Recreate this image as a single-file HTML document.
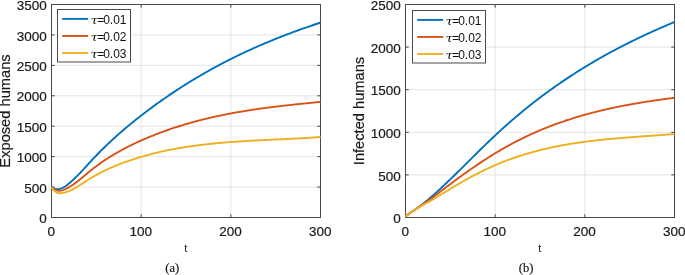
<!DOCTYPE html>
<html lang="en">
<head>
<meta charset="utf-8">
<title>Exposed and infected humans for different values of tau</title>
<style>
html, body { margin: 0; padding: 0; background: #ffffff; }
body { width: 685px; height: 275px; overflow: hidden; }
svg text { white-space: pre; }
</style>
</head>
<body>
<svg width="685" height="275" viewBox="0 0 685 275" style="display:block">
<rect width="685" height="275" fill="#ffffff"/>
<rect x="51.5" y="4.5" width="269.0" height="213.0" fill="#fff"/>
<path d="M141.17,4.5 V217.5 M230.83,4.5 V217.5 M51.5,187.07 H320.5 M51.5,156.64 H320.5 M51.5,126.21 H320.5 M51.5,95.79 H320.5 M51.5,65.36 H320.5 M51.5,34.93 H320.5" stroke="#e4e4e4" stroke-width="1" fill="none"/>
<path d="M51.50,217.5 v-3.2 M51.50,4.5 v3.2 M141.17,217.5 v-3.2 M141.17,4.5 v3.2 M230.83,217.5 v-3.2 M230.83,4.5 v3.2 M320.50,217.5 v-3.2 M320.50,4.5 v3.2 M51.5,217.50 h3.2 M320.5,217.50 h-3.2 M51.5,187.07 h3.2 M320.5,187.07 h-3.2 M51.5,156.64 h3.2 M320.5,156.64 h-3.2 M51.5,126.21 h3.2 M320.5,126.21 h-3.2 M51.5,95.79 h3.2 M320.5,95.79 h-3.2 M51.5,65.36 h3.2 M320.5,65.36 h-3.2 M51.5,34.93 h3.2 M320.5,34.93 h-3.2 M51.5,4.50 h3.2 M320.5,4.50 h-3.2" stroke="#4a4a4a" stroke-width="1" fill="none"/>
<rect x="51.5" y="4.5" width="269.0" height="213.0" fill="none" stroke="#4a4a4a" stroke-width="1"/>
<g fill="none" stroke-width="1.9" stroke-linejoin="round" stroke-linecap="butt">
<path d="M51.50,187.07 L52.25,187.59 L53.00,188.04 L53.75,188.40 L54.50,188.69 L55.25,188.91 L56.00,189.06 L56.75,189.15 L57.50,189.17 L58.25,189.13 L59.00,189.03 L59.75,188.87 L60.50,188.66 L61.25,188.41 L62.00,188.10 L62.75,187.75 L63.50,187.36 L64.25,186.93 L65.00,186.47 L65.75,185.97 L66.50,185.44 L67.25,184.88 L68.00,184.30 L68.75,183.69 L69.50,183.06 L70.25,182.42 L71.00,181.76 L71.75,181.09 L72.50,180.40 L73.25,179.70 L74.00,178.99 L74.75,178.28 L75.50,177.55 L76.25,176.82 L77.00,176.08 L77.75,175.34 L78.50,174.59 L79.25,173.82 L80.00,173.05 L80.75,172.28 L81.50,171.49 L82.25,170.68 L83.00,169.87 L83.75,169.06 L84.50,168.23 L85.25,167.40 L86.00,166.57 L86.75,165.74 L87.50,164.90 L88.25,164.08 L89.00,163.25 L89.75,162.43 L90.50,161.62 L91.25,160.81 L92.00,160.00 L92.75,159.20 L93.50,158.41 L94.25,157.62 L95.00,156.83 L95.75,156.05 L96.50,155.27 L97.25,154.50 L98.00,153.73 L98.75,152.97 L99.50,152.21 L100.25,151.45 L101.00,150.70 L101.75,149.95 L102.50,149.21 L103.25,148.47 L104.00,147.74 L104.75,147.01 L105.50,146.28 L106.25,145.56 L107.00,144.84 L107.75,144.12 L108.50,143.41 L109.25,142.71 L110.00,142.00 L110.75,141.30 L111.50,140.61 L112.25,139.91 L113.00,139.22 L113.75,138.54 L114.50,137.86 L115.25,137.18 L116.00,136.50 L116.75,135.83 L117.50,135.16 L118.25,134.50 L119.00,133.84 L119.75,133.18 L120.50,132.52 L121.25,131.87 L122.00,131.22 L122.75,130.58 L123.50,129.93 L124.25,129.29 L125.00,128.66 L125.75,128.02 L126.50,127.39 L127.25,126.76 L128.00,126.14 L128.75,125.51 L129.50,124.89 L130.25,124.28 L131.00,123.66 L131.75,123.05 L132.50,122.44 L133.25,121.83 L134.00,121.23 L134.75,120.63 L135.50,120.03 L136.25,119.43 L137.00,118.83 L137.75,118.24 L138.50,117.65 L139.25,117.06 L140.00,116.48 L140.75,115.89 L141.50,115.31 L142.25,114.73 L143.00,114.15 L143.75,113.58 L144.50,113.00 L145.25,112.43 L146.00,111.86 L146.75,111.29 L147.50,110.73 L148.25,110.16 L149.00,109.60 L149.75,109.04 L150.50,108.48 L151.25,107.93 L152.00,107.37 L152.75,106.82 L153.50,106.27 L154.25,105.72 L155.00,105.18 L155.75,104.63 L156.50,104.09 L157.25,103.55 L158.00,103.01 L158.75,102.47 L159.50,101.94 L160.25,101.41 L161.00,100.88 L161.75,100.35 L162.50,99.82 L163.25,99.29 L164.00,98.77 L164.75,98.25 L165.50,97.73 L166.25,97.21 L167.00,96.70 L167.75,96.18 L168.50,95.67 L169.25,95.16 L170.00,94.65 L170.75,94.14 L171.50,93.64 L172.25,93.14 L173.00,92.64 L173.75,92.14 L174.50,91.64 L175.25,91.14 L176.00,90.65 L176.75,90.16 L177.50,89.67 L178.25,89.18 L179.00,88.69 L179.75,88.21 L180.50,87.72 L181.25,87.24 L182.00,86.76 L182.75,86.28 L183.50,85.81 L184.25,85.33 L185.00,84.86 L185.75,84.39 L186.50,83.92 L187.25,83.45 L188.00,82.98 L188.75,82.52 L189.50,82.06 L190.25,81.60 L191.00,81.14 L191.75,80.68 L192.50,80.22 L193.25,79.77 L194.00,79.32 L194.75,78.87 L195.50,78.42 L196.25,77.97 L197.00,77.53 L197.75,77.08 L198.50,76.64 L199.25,76.20 L200.00,75.76 L200.75,75.32 L201.50,74.88 L202.25,74.45 L203.00,74.02 L203.75,73.59 L204.50,73.16 L205.25,72.73 L206.00,72.30 L206.75,71.88 L207.50,71.45 L208.25,71.03 L209.00,70.61 L209.75,70.19 L210.50,69.78 L211.25,69.36 L212.00,68.95 L212.75,68.53 L213.50,68.12 L214.25,67.71 L215.00,67.31 L215.75,66.90 L216.50,66.49 L217.25,66.09 L218.00,65.69 L218.75,65.29 L219.50,64.89 L220.25,64.49 L221.00,64.10 L221.75,63.70 L222.50,63.31 L223.25,62.92 L224.00,62.53 L224.75,62.14 L225.50,61.75 L226.25,61.37 L227.00,60.98 L227.75,60.60 L228.50,60.22 L229.25,59.84 L230.00,59.46 L230.75,59.08 L231.50,58.71 L232.25,58.33 L233.00,57.96 L233.75,57.59 L234.50,57.22 L235.25,56.85 L236.00,56.48 L236.75,56.12 L237.50,55.75 L238.25,55.39 L239.00,55.03 L239.75,54.67 L240.50,54.31 L241.25,53.95 L242.00,53.59 L242.75,53.24 L243.50,52.88 L244.25,52.53 L245.00,52.18 L245.75,51.83 L246.50,51.48 L247.25,51.13 L248.00,50.79 L248.75,50.44 L249.50,50.10 L250.25,49.76 L251.00,49.42 L251.75,49.08 L252.50,48.74 L253.25,48.40 L254.00,48.06 L254.75,47.73 L255.50,47.40 L256.25,47.06 L257.00,46.73 L257.75,46.40 L258.50,46.07 L259.25,45.75 L260.00,45.42 L260.75,45.10 L261.50,44.77 L262.25,44.45 L263.00,44.13 L263.75,43.81 L264.50,43.49 L265.25,43.17 L266.00,42.85 L266.75,42.54 L267.50,42.22 L268.25,41.91 L269.00,41.60 L269.75,41.29 L270.50,40.98 L271.25,40.67 L272.00,40.36 L272.75,40.06 L273.50,39.75 L274.25,39.45 L275.00,39.14 L275.75,38.84 L276.50,38.54 L277.25,38.24 L278.00,37.94 L278.75,37.64 L279.50,37.35 L280.25,37.05 L281.00,36.76 L281.75,36.46 L282.50,36.17 L283.25,35.88 L284.00,35.59 L284.75,35.30 L285.50,35.01 L286.25,34.72 L287.00,34.44 L287.75,34.15 L288.50,33.87 L289.25,33.59 L290.00,33.30 L290.75,33.02 L291.50,32.74 L292.25,32.46 L293.00,32.18 L293.75,31.91 L294.50,31.63 L295.25,31.36 L296.00,31.08 L296.75,30.81 L297.50,30.53 L298.25,30.26 L299.00,29.99 L299.75,29.72 L300.50,29.45 L301.25,29.19 L302.00,28.92 L302.75,28.65 L303.50,28.39 L304.25,28.12 L305.00,27.86 L305.75,27.60 L306.50,27.34 L307.25,27.07 L308.00,26.81 L308.75,26.56 L309.50,26.30 L310.25,26.04 L311.00,25.78 L311.75,25.53 L312.50,25.27 L313.25,25.02 L314.00,24.77 L314.75,24.51 L315.50,24.26 L316.25,24.01 L317.00,23.76 L317.75,23.51 L318.50,23.26 L319.25,23.02 L320.00,22.77 L320.50,22.61" stroke="#0072BD"/>
<path d="M51.50,187.07 L52.25,187.81 L53.00,188.46 L53.75,189.02 L54.50,189.49 L55.25,189.87 L56.00,190.18 L56.75,190.41 L57.50,190.57 L58.25,190.67 L59.00,190.71 L59.75,190.69 L60.50,190.61 L61.25,190.49 L62.00,190.33 L62.75,190.12 L63.50,189.88 L64.25,189.60 L65.00,189.30 L65.75,188.96 L66.50,188.60 L67.25,188.22 L68.00,187.81 L68.75,187.38 L69.50,186.93 L70.25,186.46 L71.00,185.98 L71.75,185.49 L72.50,184.98 L73.25,184.46 L74.00,183.93 L74.75,183.38 L75.50,182.83 L76.25,182.28 L77.00,181.71 L77.75,181.14 L78.50,180.56 L79.25,179.98 L80.00,179.38 L80.75,178.78 L81.50,178.17 L82.25,177.56 L83.00,176.94 L83.75,176.31 L84.50,175.68 L85.25,175.05 L86.00,174.42 L86.75,173.79 L87.50,173.17 L88.25,172.54 L89.00,171.93 L89.75,171.32 L90.50,170.71 L91.25,170.11 L92.00,169.52 L92.75,168.93 L93.50,168.35 L94.25,167.78 L95.00,167.21 L95.75,166.64 L96.50,166.08 L97.25,165.53 L98.00,164.98 L98.75,164.43 L99.50,163.90 L100.25,163.36 L101.00,162.83 L101.75,162.31 L102.50,161.79 L103.25,161.28 L104.00,160.77 L104.75,160.27 L105.50,159.77 L106.25,159.27 L107.00,158.79 L107.75,158.30 L108.50,157.82 L109.25,157.34 L110.00,156.87 L110.75,156.41 L111.50,155.94 L112.25,155.49 L113.00,155.03 L113.75,154.58 L114.50,154.14 L115.25,153.69 L116.00,153.26 L116.75,152.82 L117.50,152.39 L118.25,151.97 L119.00,151.55 L119.75,151.13 L120.50,150.71 L121.25,150.30 L122.00,149.89 L122.75,149.49 L123.50,149.09 L124.25,148.69 L125.00,148.30 L125.75,147.91 L126.50,147.52 L127.25,147.14 L128.00,146.76 L128.75,146.38 L129.50,146.01 L130.25,145.63 L131.00,145.27 L131.75,144.90 L132.50,144.54 L133.25,144.18 L134.00,143.82 L134.75,143.47 L135.50,143.11 L136.25,142.76 L137.00,142.42 L137.75,142.07 L138.50,141.73 L139.25,141.39 L140.00,141.05 L140.75,140.72 L141.50,140.38 L142.25,140.05 L143.00,139.72 L143.75,139.40 L144.50,139.07 L145.25,138.75 L146.00,138.43 L146.75,138.11 L147.50,137.79 L148.25,137.48 L149.00,137.17 L149.75,136.86 L150.50,136.55 L151.25,136.24 L152.00,135.94 L152.75,135.64 L153.50,135.34 L154.25,135.04 L155.00,134.74 L155.75,134.45 L156.50,134.16 L157.25,133.87 L158.00,133.58 L158.75,133.29 L159.50,133.01 L160.25,132.72 L161.00,132.44 L161.75,132.16 L162.50,131.89 L163.25,131.61 L164.00,131.34 L164.75,131.07 L165.50,130.80 L166.25,130.53 L167.00,130.26 L167.75,130.00 L168.50,129.74 L169.25,129.48 L170.00,129.22 L170.75,128.96 L171.50,128.71 L172.25,128.45 L173.00,128.20 L173.75,127.95 L174.50,127.70 L175.25,127.46 L176.00,127.21 L176.75,126.97 L177.50,126.73 L178.25,126.49 L179.00,126.25 L179.75,126.02 L180.50,125.78 L181.25,125.55 L182.00,125.32 L182.75,125.09 L183.50,124.86 L184.25,124.64 L185.00,124.41 L185.75,124.19 L186.50,123.97 L187.25,123.75 L188.00,123.53 L188.75,123.31 L189.50,123.10 L190.25,122.88 L191.00,122.67 L191.75,122.46 L192.50,122.25 L193.25,122.05 L194.00,121.84 L194.75,121.64 L195.50,121.43 L196.25,121.23 L197.00,121.03 L197.75,120.84 L198.50,120.64 L199.25,120.44 L200.00,120.25 L200.75,120.06 L201.50,119.87 L202.25,119.68 L203.00,119.49 L203.75,119.30 L204.50,119.12 L205.25,118.93 L206.00,118.75 L206.75,118.57 L207.50,118.39 L208.25,118.21 L209.00,118.04 L209.75,117.86 L210.50,117.69 L211.25,117.51 L212.00,117.34 L212.75,117.17 L213.50,117.00 L214.25,116.83 L215.00,116.67 L215.75,116.50 L216.50,116.34 L217.25,116.18 L218.00,116.01 L218.75,115.85 L219.50,115.70 L220.25,115.54 L221.00,115.38 L221.75,115.23 L222.50,115.07 L223.25,114.92 L224.00,114.77 L224.75,114.62 L225.50,114.47 L226.25,114.32 L227.00,114.17 L227.75,114.03 L228.50,113.88 L229.25,113.74 L230.00,113.59 L230.75,113.45 L231.50,113.31 L232.25,113.17 L233.00,113.03 L233.75,112.90 L234.50,112.76 L235.25,112.63 L236.00,112.49 L236.75,112.36 L237.50,112.23 L238.25,112.09 L239.00,111.96 L239.75,111.84 L240.50,111.71 L241.25,111.58 L242.00,111.45 L242.75,111.33 L243.50,111.20 L244.25,111.08 L245.00,110.96 L245.75,110.84 L246.50,110.72 L247.25,110.60 L248.00,110.48 L248.75,110.36 L249.50,110.24 L250.25,110.13 L251.00,110.01 L251.75,109.90 L252.50,109.78 L253.25,109.67 L254.00,109.56 L254.75,109.45 L255.50,109.34 L256.25,109.23 L257.00,109.12 L257.75,109.01 L258.50,108.91 L259.25,108.80 L260.00,108.69 L260.75,108.59 L261.50,108.48 L262.25,108.38 L263.00,108.28 L263.75,108.18 L264.50,108.08 L265.25,107.98 L266.00,107.88 L266.75,107.78 L267.50,107.68 L268.25,107.58 L269.00,107.48 L269.75,107.39 L270.50,107.29 L271.25,107.20 L272.00,107.10 L272.75,107.01 L273.50,106.91 L274.25,106.82 L275.00,106.73 L275.75,106.64 L276.50,106.55 L277.25,106.46 L278.00,106.37 L278.75,106.28 L279.50,106.19 L280.25,106.10 L281.00,106.01 L281.75,105.92 L282.50,105.84 L283.25,105.75 L284.00,105.66 L284.75,105.58 L285.50,105.49 L286.25,105.41 L287.00,105.33 L287.75,105.24 L288.50,105.16 L289.25,105.08 L290.00,104.99 L290.75,104.91 L291.50,104.83 L292.25,104.75 L293.00,104.67 L293.75,104.59 L294.50,104.51 L295.25,104.43 L296.00,104.35 L296.75,104.27 L297.50,104.19 L298.25,104.11 L299.00,104.04 L299.75,103.96 L300.50,103.88 L301.25,103.80 L302.00,103.73 L302.75,103.65 L303.50,103.57 L304.25,103.50 L305.00,103.42 L305.75,103.35 L306.50,103.27 L307.25,103.20 L308.00,103.12 L308.75,103.05 L309.50,102.97 L310.25,102.90 L311.00,102.82 L311.75,102.75 L312.50,102.67 L313.25,102.60 L314.00,102.53 L314.75,102.45 L315.50,102.38 L316.25,102.31 L317.00,102.23 L317.75,102.16 L318.50,102.09 L319.25,102.01 L320.00,101.94 L320.50,101.89" stroke="#D95319"/>
<path d="M51.50,187.07 L52.25,188.26 L53.00,189.30 L53.75,190.18 L54.50,190.94 L55.25,191.56 L56.00,192.07 L56.75,192.47 L57.50,192.77 L58.25,192.98 L59.00,193.12 L59.75,193.18 L60.50,193.18 L61.25,193.13 L62.00,193.04 L62.75,192.92 L63.50,192.78 L64.25,192.61 L65.00,192.42 L65.75,192.21 L66.50,191.97 L67.25,191.72 L68.00,191.45 L68.75,191.16 L69.50,190.85 L70.25,190.52 L71.00,190.17 L71.75,189.81 L72.50,189.44 L73.25,189.05 L74.00,188.64 L74.75,188.23 L75.50,187.80 L76.25,187.36 L77.00,186.92 L77.75,186.46 L78.50,186.00 L79.25,185.53 L80.00,185.05 L80.75,184.57 L81.50,184.09 L82.25,183.61 L83.00,183.12 L83.75,182.63 L84.50,182.14 L85.25,181.65 L86.00,181.17 L86.75,180.68 L87.50,180.20 L88.25,179.73 L89.00,179.26 L89.75,178.80 L90.50,178.34 L91.25,177.89 L92.00,177.44 L92.75,177.00 L93.50,176.56 L94.25,176.13 L95.00,175.70 L95.75,175.28 L96.50,174.86 L97.25,174.45 L98.00,174.05 L98.75,173.64 L99.50,173.25 L100.25,172.85 L101.00,172.47 L101.75,172.08 L102.50,171.71 L103.25,171.33 L104.00,170.96 L104.75,170.60 L105.50,170.24 L106.25,169.88 L107.00,169.53 L107.75,169.18 L108.50,168.83 L109.25,168.49 L110.00,168.16 L110.75,167.83 L111.50,167.50 L112.25,167.17 L113.00,166.85 L113.75,166.53 L114.50,166.22 L115.25,165.91 L116.00,165.60 L116.75,165.30 L117.50,165.00 L118.25,164.70 L119.00,164.40 L119.75,164.11 L120.50,163.83 L121.25,163.54 L122.00,163.26 L122.75,162.98 L123.50,162.70 L124.25,162.43 L125.00,162.16 L125.75,161.89 L126.50,161.63 L127.25,161.36 L128.00,161.10 L128.75,160.84 L129.50,160.59 L130.25,160.34 L131.00,160.08 L131.75,159.84 L132.50,159.59 L133.25,159.34 L134.00,159.10 L134.75,158.86 L135.50,158.62 L136.25,158.39 L137.00,158.16 L137.75,157.92 L138.50,157.69 L139.25,157.47 L140.00,157.24 L140.75,157.02 L141.50,156.80 L142.25,156.58 L143.00,156.36 L143.75,156.15 L144.50,155.94 L145.25,155.72 L146.00,155.52 L146.75,155.31 L147.50,155.10 L148.25,154.90 L149.00,154.70 L149.75,154.50 L150.50,154.31 L151.25,154.11 L152.00,153.92 L152.75,153.73 L153.50,153.54 L154.25,153.35 L155.00,153.17 L155.75,152.98 L156.50,152.80 L157.25,152.62 L158.00,152.44 L158.75,152.27 L159.50,152.09 L160.25,151.92 L161.00,151.75 L161.75,151.58 L162.50,151.41 L163.25,151.25 L164.00,151.08 L164.75,150.92 L165.50,150.76 L166.25,150.60 L167.00,150.44 L167.75,150.29 L168.50,150.14 L169.25,149.98 L170.00,149.83 L170.75,149.68 L171.50,149.54 L172.25,149.39 L173.00,149.25 L173.75,149.11 L174.50,148.97 L175.25,148.83 L176.00,148.69 L176.75,148.55 L177.50,148.42 L178.25,148.28 L179.00,148.15 L179.75,148.02 L180.50,147.89 L181.25,147.77 L182.00,147.64 L182.75,147.52 L183.50,147.39 L184.25,147.27 L185.00,147.15 L185.75,147.03 L186.50,146.92 L187.25,146.80 L188.00,146.69 L188.75,146.57 L189.50,146.46 L190.25,146.35 L191.00,146.24 L191.75,146.14 L192.50,146.03 L193.25,145.92 L194.00,145.82 L194.75,145.72 L195.50,145.62 L196.25,145.52 L197.00,145.42 L197.75,145.32 L198.50,145.22 L199.25,145.13 L200.00,145.03 L200.75,144.94 L201.50,144.85 L202.25,144.76 L203.00,144.67 L203.75,144.58 L204.50,144.49 L205.25,144.40 L206.00,144.32 L206.75,144.24 L207.50,144.15 L208.25,144.07 L209.00,143.99 L209.75,143.91 L210.50,143.83 L211.25,143.75 L212.00,143.68 L212.75,143.60 L213.50,143.52 L214.25,143.45 L215.00,143.38 L215.75,143.30 L216.50,143.23 L217.25,143.16 L218.00,143.09 L218.75,143.03 L219.50,142.96 L220.25,142.89 L221.00,142.82 L221.75,142.76 L222.50,142.70 L223.25,142.63 L224.00,142.57 L224.75,142.51 L225.50,142.45 L226.25,142.39 L227.00,142.33 L227.75,142.27 L228.50,142.21 L229.25,142.15 L230.00,142.09 L230.75,142.04 L231.50,141.98 L232.25,141.93 L233.00,141.87 L233.75,141.82 L234.50,141.77 L235.25,141.72 L236.00,141.67 L236.75,141.61 L237.50,141.56 L238.25,141.51 L239.00,141.47 L239.75,141.42 L240.50,141.37 L241.25,141.32 L242.00,141.27 L242.75,141.23 L243.50,141.18 L244.25,141.14 L245.00,141.09 L245.75,141.05 L246.50,141.00 L247.25,140.96 L248.00,140.92 L248.75,140.87 L249.50,140.83 L250.25,140.79 L251.00,140.75 L251.75,140.71 L252.50,140.67 L253.25,140.63 L254.00,140.59 L254.75,140.55 L255.50,140.51 L256.25,140.47 L257.00,140.43 L257.75,140.39 L258.50,140.35 L259.25,140.31 L260.00,140.28 L260.75,140.24 L261.50,140.20 L262.25,140.16 L263.00,140.13 L263.75,140.09 L264.50,140.05 L265.25,140.02 L266.00,139.98 L266.75,139.94 L267.50,139.91 L268.25,139.87 L269.00,139.84 L269.75,139.80 L270.50,139.77 L271.25,139.73 L272.00,139.70 L272.75,139.66 L273.50,139.62 L274.25,139.59 L275.00,139.55 L275.75,139.52 L276.50,139.48 L277.25,139.45 L278.00,139.41 L278.75,139.38 L279.50,139.34 L280.25,139.31 L281.00,139.27 L281.75,139.23 L282.50,139.20 L283.25,139.16 L284.00,139.13 L284.75,139.09 L285.50,139.05 L286.25,139.02 L287.00,138.98 L287.75,138.94 L288.50,138.91 L289.25,138.87 L290.00,138.83 L290.75,138.79 L291.50,138.76 L292.25,138.72 L293.00,138.68 L293.75,138.64 L294.50,138.60 L295.25,138.56 L296.00,138.52 L296.75,138.48 L297.50,138.44 L298.25,138.40 L299.00,138.36 L299.75,138.32 L300.50,138.28 L301.25,138.23 L302.00,138.19 L302.75,138.15 L303.50,138.11 L304.25,138.06 L305.00,138.02 L305.75,137.97 L306.50,137.93 L307.25,137.88 L308.00,137.84 L308.75,137.79 L309.50,137.74 L310.25,137.69 L311.00,137.65 L311.75,137.60 L312.50,137.55 L313.25,137.50 L314.00,137.45 L314.75,137.39 L315.50,137.34 L316.25,137.29 L317.00,137.24 L317.75,137.18 L318.50,137.13 L319.25,137.07 L320.00,137.02 L320.50,136.98" stroke="#EDB120"/>
</g>
<g font-family="'Liberation Sans', Arial, Helvetica, sans-serif" font-size="13.5" fill="#1a1a1a" stroke="#1a1a1a" stroke-width="0.2">
<text x="51.20" y="236.2" text-anchor="middle">0</text>
<text x="140.87" y="236.2" text-anchor="middle">100</text>
<text x="230.53" y="236.2" text-anchor="middle">200</text>
<text x="320.20" y="236.2" text-anchor="middle">300</text>
<text x="46.70" y="223.10" text-anchor="end">0</text>
<text x="46.70" y="192.67" text-anchor="end">500</text>
<text x="46.70" y="162.24" text-anchor="end">1000</text>
<text x="46.70" y="131.81" text-anchor="end">1500</text>
<text x="46.70" y="101.39" text-anchor="end">2000</text>
<text x="46.70" y="70.96" text-anchor="end">2500</text>
<text x="46.70" y="40.53" text-anchor="end">3000</text>
<text x="46.70" y="10.10" text-anchor="end">3500</text>
</g>
<text x="185.90" y="251.5" text-anchor="middle" font-family="'Liberation Sans', Arial, sans-serif" font-size="11" fill="#1a1a1a">t</text>
<text transform="translate(10.00,111.00) rotate(-90)" text-anchor="middle" font-family="'Liberation Sans', Arial, sans-serif" font-size="14.67" fill="#1a1a1a" stroke="#1a1a1a" stroke-width="0.2">Exposed humans</text>
<text x="172.20" y="272.3" text-anchor="middle" font-family="'Liberation Serif', 'Times New Roman', serif" font-size="12.6" fill="#111" stroke="#111" stroke-width="0.15">(a)</text>
<rect x="57.5" y="9.5" width="73" height="52.5" fill="#fff" stroke="#4a4a4a" stroke-width="1"/>
<path d="M62.2,18.90 H88.2" stroke="#0072BD" stroke-width="1.9" fill="none"/>
<text x="90.40" y="24.10" font-family="'Liberation Sans', Arial, sans-serif" font-size="12" fill="#111"><tspan font-family="'DejaVu Serif', serif" font-style="italic" font-size="11" textLength="7.5" lengthAdjust="spacingAndGlyphs">τ</tspan><tspan x="97.30">=</tspan><tspan x="103.20">0.01</tspan></text>
<path d="M62.2,35.95 H88.2" stroke="#D95319" stroke-width="1.9" fill="none"/>
<text x="90.40" y="41.15" font-family="'Liberation Sans', Arial, sans-serif" font-size="12" fill="#111"><tspan font-family="'DejaVu Serif', serif" font-style="italic" font-size="11" textLength="7.5" lengthAdjust="spacingAndGlyphs">τ</tspan><tspan x="97.30">=</tspan><tspan x="103.20">0.02</tspan></text>
<path d="M62.2,53.00 H88.2" stroke="#EDB120" stroke-width="1.9" fill="none"/>
<text x="90.40" y="58.20" font-family="'Liberation Sans', Arial, sans-serif" font-size="12" fill="#111"><tspan font-family="'DejaVu Serif', serif" font-style="italic" font-size="11" textLength="7.5" lengthAdjust="spacingAndGlyphs">τ</tspan><tspan x="97.30">=</tspan><tspan x="103.20">0.03</tspan></text>
<rect x="405.5" y="4.5" width="269.0" height="213.0" fill="#fff"/>
<path d="M495.17,4.5 V217.5 M584.83,4.5 V217.5 M405.5,174.90 H674.5 M405.5,132.30 H674.5 M405.5,89.70 H674.5 M405.5,47.10 H674.5" stroke="#e4e4e4" stroke-width="1" fill="none"/>
<path d="M405.50,217.5 v-3.2 M405.50,4.5 v3.2 M495.17,217.5 v-3.2 M495.17,4.5 v3.2 M584.83,217.5 v-3.2 M584.83,4.5 v3.2 M674.50,217.5 v-3.2 M674.50,4.5 v3.2 M405.5,217.50 h3.2 M674.5,217.50 h-3.2 M405.5,174.90 h3.2 M674.5,174.90 h-3.2 M405.5,132.30 h3.2 M674.5,132.30 h-3.2 M405.5,89.70 h3.2 M674.5,89.70 h-3.2 M405.5,47.10 h3.2 M674.5,47.10 h-3.2 M405.5,4.50 h3.2 M674.5,4.50 h-3.2" stroke="#4a4a4a" stroke-width="1" fill="none"/>
<rect x="405.5" y="4.5" width="269.0" height="213.0" fill="none" stroke="#4a4a4a" stroke-width="1"/>
<g fill="none" stroke-width="1.9" stroke-linejoin="round" stroke-linecap="butt">
<path d="M405.50,216.69 L406.25,216.00 L407.00,215.35 L407.75,214.73 L408.50,214.14 L409.25,213.57 L410.00,213.02 L410.75,212.49 L411.50,211.97 L412.25,211.46 L413.00,210.96 L413.75,210.45 L414.50,209.95 L415.25,209.45 L416.00,208.94 L416.75,208.42 L417.50,207.89 L418.25,207.36 L419.00,206.82 L419.75,206.27 L420.50,205.71 L421.25,205.14 L422.00,204.57 L422.75,203.99 L423.50,203.40 L424.25,202.81 L425.00,202.21 L425.75,201.60 L426.50,200.99 L427.25,200.37 L428.00,199.74 L428.75,199.11 L429.50,198.47 L430.25,197.83 L431.00,197.18 L431.75,196.53 L432.50,195.88 L433.25,195.21 L434.00,194.55 L434.75,193.88 L435.50,193.20 L436.25,192.53 L437.00,191.84 L437.75,191.16 L438.50,190.47 L439.25,189.78 L440.00,189.08 L440.75,188.39 L441.50,187.69 L442.25,186.98 L443.00,186.28 L443.75,185.57 L444.50,184.86 L445.25,184.15 L446.00,183.44 L446.75,182.72 L447.50,182.00 L448.25,181.28 L449.00,180.56 L449.75,179.84 L450.50,179.11 L451.25,178.39 L452.00,177.66 L452.75,176.93 L453.50,176.20 L454.25,175.47 L455.00,174.74 L455.75,174.00 L456.50,173.26 L457.25,172.53 L458.00,171.79 L458.75,171.05 L459.50,170.31 L460.25,169.57 L461.00,168.83 L461.75,168.09 L462.50,167.35 L463.25,166.60 L464.00,165.86 L464.75,165.12 L465.50,164.37 L466.25,163.63 L467.00,162.88 L467.75,162.14 L468.50,161.39 L469.25,160.65 L470.00,159.90 L470.75,159.16 L471.50,158.42 L472.25,157.67 L473.00,156.93 L473.75,156.19 L474.50,155.44 L475.25,154.70 L476.00,153.96 L476.75,153.22 L477.50,152.48 L478.25,151.74 L479.00,151.00 L479.75,150.26 L480.50,149.53 L481.25,148.79 L482.00,148.06 L482.75,147.32 L483.50,146.59 L484.25,145.86 L485.00,145.13 L485.75,144.41 L486.50,143.68 L487.25,142.95 L488.00,142.23 L488.75,141.51 L489.50,140.79 L490.25,140.08 L491.00,139.36 L491.75,138.65 L492.50,137.94 L493.25,137.23 L494.00,136.52 L494.75,135.82 L495.50,135.12 L496.25,134.42 L497.00,133.72 L497.75,133.02 L498.50,132.33 L499.25,131.64 L500.00,130.96 L500.75,130.27 L501.50,129.59 L502.25,128.91 L503.00,128.23 L503.75,127.55 L504.50,126.88 L505.25,126.21 L506.00,125.54 L506.75,124.88 L507.50,124.21 L508.25,123.55 L509.00,122.89 L509.75,122.24 L510.50,121.58 L511.25,120.93 L512.00,120.28 L512.75,119.63 L513.50,118.99 L514.25,118.35 L515.00,117.71 L515.75,117.07 L516.50,116.43 L517.25,115.80 L518.00,115.17 L518.75,114.54 L519.50,113.91 L520.25,113.29 L521.00,112.66 L521.75,112.04 L522.50,111.42 L523.25,110.81 L524.00,110.19 L524.75,109.58 L525.50,108.97 L526.25,108.37 L527.00,107.76 L527.75,107.16 L528.50,106.56 L529.25,105.96 L530.00,105.36 L530.75,104.77 L531.50,104.18 L532.25,103.59 L533.00,103.00 L533.75,102.41 L534.50,101.83 L535.25,101.25 L536.00,100.67 L536.75,100.09 L537.50,99.52 L538.25,98.94 L539.00,98.37 L539.75,97.80 L540.50,97.23 L541.25,96.67 L542.00,96.11 L542.75,95.54 L543.50,94.99 L544.25,94.43 L545.00,93.87 L545.75,93.32 L546.50,92.77 L547.25,92.22 L548.00,91.67 L548.75,91.13 L549.50,90.58 L550.25,90.04 L551.00,89.50 L551.75,88.97 L552.50,88.43 L553.25,87.90 L554.00,87.37 L554.75,86.84 L555.50,86.31 L556.25,85.78 L557.00,85.26 L557.75,84.74 L558.50,84.22 L559.25,83.70 L560.00,83.18 L560.75,82.67 L561.50,82.15 L562.25,81.64 L563.00,81.13 L563.75,80.63 L564.50,80.12 L565.25,79.62 L566.00,79.12 L566.75,78.62 L567.50,78.12 L568.25,77.62 L569.00,77.13 L569.75,76.63 L570.50,76.14 L571.25,75.65 L572.00,75.16 L572.75,74.68 L573.50,74.19 L574.25,73.71 L575.00,73.23 L575.75,72.75 L576.50,72.27 L577.25,71.80 L578.00,71.33 L578.75,70.85 L579.50,70.38 L580.25,69.91 L581.00,69.45 L581.75,68.98 L582.50,68.52 L583.25,68.05 L584.00,67.59 L584.75,67.14 L585.50,66.68 L586.25,66.22 L587.00,65.77 L587.75,65.32 L588.50,64.87 L589.25,64.42 L590.00,63.97 L590.75,63.52 L591.50,63.08 L592.25,62.63 L593.00,62.19 L593.75,61.75 L594.50,61.32 L595.25,60.88 L596.00,60.44 L596.75,60.01 L597.50,59.58 L598.25,59.15 L599.00,58.72 L599.75,58.29 L600.50,57.86 L601.25,57.44 L602.00,57.02 L602.75,56.59 L603.50,56.17 L604.25,55.75 L605.00,55.34 L605.75,54.92 L606.50,54.51 L607.25,54.09 L608.00,53.68 L608.75,53.27 L609.50,52.86 L610.25,52.46 L611.00,52.05 L611.75,51.64 L612.50,51.24 L613.25,50.84 L614.00,50.44 L614.75,50.04 L615.50,49.64 L616.25,49.25 L617.00,48.85 L617.75,48.46 L618.50,48.06 L619.25,47.67 L620.00,47.28 L620.75,46.89 L621.50,46.51 L622.25,46.12 L623.00,45.74 L623.75,45.35 L624.50,44.97 L625.25,44.59 L626.00,44.21 L626.75,43.83 L627.50,43.46 L628.25,43.08 L629.00,42.71 L629.75,42.33 L630.50,41.96 L631.25,41.59 L632.00,41.22 L632.75,40.85 L633.50,40.48 L634.25,40.12 L635.00,39.75 L635.75,39.39 L636.50,39.02 L637.25,38.66 L638.00,38.30 L638.75,37.94 L639.50,37.59 L640.25,37.23 L641.00,36.87 L641.75,36.52 L642.50,36.16 L643.25,35.81 L644.00,35.46 L644.75,35.11 L645.50,34.76 L646.25,34.41 L647.00,34.06 L647.75,33.72 L648.50,33.37 L649.25,33.03 L650.00,32.69 L650.75,32.34 L651.50,32.00 L652.25,31.66 L653.00,31.32 L653.75,30.99 L654.50,30.65 L655.25,30.31 L656.00,29.98 L656.75,29.64 L657.50,29.31 L658.25,28.98 L659.00,28.65 L659.75,28.32 L660.50,27.99 L661.25,27.66 L662.00,27.33 L662.75,27.01 L663.50,26.68 L664.25,26.36 L665.00,26.03 L665.75,25.71 L666.50,25.39 L667.25,25.07 L668.00,24.75 L668.75,24.43 L669.50,24.11 L670.25,23.79 L671.00,23.47 L671.75,23.16 L672.50,22.84 L673.25,22.53 L674.00,22.21 L674.50,22.01" stroke="#0072BD"/>
<path d="M405.50,216.68 L406.25,216.02 L407.00,215.37 L407.75,214.76 L408.50,214.16 L409.25,213.59 L410.00,213.03 L410.75,212.49 L411.50,211.97 L412.25,211.45 L413.00,210.95 L413.75,210.46 L414.50,209.97 L415.25,209.49 L416.00,209.01 L416.75,208.54 L417.50,208.07 L418.25,207.59 L419.00,207.12 L419.75,206.64 L420.50,206.15 L421.25,205.66 L422.00,205.16 L422.75,204.66 L423.50,204.15 L424.25,203.63 L425.00,203.11 L425.75,202.58 L426.50,202.05 L427.25,201.51 L428.00,200.97 L428.75,200.42 L429.50,199.87 L430.25,199.31 L431.00,198.75 L431.75,198.19 L432.50,197.63 L433.25,197.06 L434.00,196.49 L434.75,195.92 L435.50,195.35 L436.25,194.78 L437.00,194.20 L437.75,193.63 L438.50,193.05 L439.25,192.47 L440.00,191.90 L440.75,191.32 L441.50,190.75 L442.25,190.17 L443.00,189.60 L443.75,189.03 L444.50,188.46 L445.25,187.89 L446.00,187.32 L446.75,186.75 L447.50,186.18 L448.25,185.62 L449.00,185.06 L449.75,184.49 L450.50,183.93 L451.25,183.37 L452.00,182.81 L452.75,182.25 L453.50,181.70 L454.25,181.14 L455.00,180.59 L455.75,180.03 L456.50,179.48 L457.25,178.93 L458.00,178.38 L458.75,177.83 L459.50,177.29 L460.25,176.74 L461.00,176.20 L461.75,175.66 L462.50,175.12 L463.25,174.58 L464.00,174.04 L464.75,173.51 L465.50,172.97 L466.25,172.44 L467.00,171.91 L467.75,171.38 L468.50,170.85 L469.25,170.33 L470.00,169.80 L470.75,169.28 L471.50,168.76 L472.25,168.24 L473.00,167.72 L473.75,167.21 L474.50,166.69 L475.25,166.18 L476.00,165.67 L476.75,165.16 L477.50,164.66 L478.25,164.15 L479.00,163.65 L479.75,163.15 L480.50,162.65 L481.25,162.15 L482.00,161.66 L482.75,161.16 L483.50,160.67 L484.25,160.19 L485.00,159.70 L485.75,159.21 L486.50,158.73 L487.25,158.25 L488.00,157.77 L488.75,157.30 L489.50,156.82 L490.25,156.35 L491.00,155.88 L491.75,155.41 L492.50,154.95 L493.25,154.48 L494.00,154.02 L494.75,153.56 L495.50,153.11 L496.25,152.65 L497.00,152.20 L497.75,151.75 L498.50,151.31 L499.25,150.86 L500.00,150.42 L500.75,149.98 L501.50,149.54 L502.25,149.11 L503.00,148.68 L503.75,148.25 L504.50,147.82 L505.25,147.39 L506.00,146.97 L506.75,146.55 L507.50,146.14 L508.25,145.72 L509.00,145.31 L509.75,144.90 L510.50,144.49 L511.25,144.09 L512.00,143.68 L512.75,143.28 L513.50,142.89 L514.25,142.49 L515.00,142.10 L515.75,141.71 L516.50,141.32 L517.25,140.94 L518.00,140.55 L518.75,140.17 L519.50,139.79 L520.25,139.42 L521.00,139.04 L521.75,138.67 L522.50,138.30 L523.25,137.94 L524.00,137.57 L524.75,137.21 L525.50,136.85 L526.25,136.49 L527.00,136.14 L527.75,135.78 L528.50,135.43 L529.25,135.08 L530.00,134.74 L530.75,134.39 L531.50,134.05 L532.25,133.71 L533.00,133.37 L533.75,133.04 L534.50,132.70 L535.25,132.37 L536.00,132.04 L536.75,131.72 L537.50,131.39 L538.25,131.07 L539.00,130.75 L539.75,130.43 L540.50,130.11 L541.25,129.80 L542.00,129.49 L542.75,129.18 L543.50,128.87 L544.25,128.56 L545.00,128.26 L545.75,127.95 L546.50,127.65 L547.25,127.36 L548.00,127.06 L548.75,126.77 L549.50,126.47 L550.25,126.18 L551.00,125.89 L551.75,125.61 L552.50,125.32 L553.25,125.04 L554.00,124.76 L554.75,124.48 L555.50,124.20 L556.25,123.93 L557.00,123.66 L557.75,123.39 L558.50,123.12 L559.25,122.85 L560.00,122.58 L560.75,122.32 L561.50,122.06 L562.25,121.80 L563.00,121.54 L563.75,121.28 L564.50,121.03 L565.25,120.77 L566.00,120.52 L566.75,120.27 L567.50,120.02 L568.25,119.78 L569.00,119.53 L569.75,119.29 L570.50,119.05 L571.25,118.81 L572.00,118.57 L572.75,118.34 L573.50,118.10 L574.25,117.87 L575.00,117.64 L575.75,117.41 L576.50,117.18 L577.25,116.95 L578.00,116.73 L578.75,116.51 L579.50,116.29 L580.25,116.07 L581.00,115.85 L581.75,115.63 L582.50,115.42 L583.25,115.20 L584.00,114.99 L584.75,114.78 L585.50,114.57 L586.25,114.36 L587.00,114.16 L587.75,113.95 L588.50,113.75 L589.25,113.55 L590.00,113.35 L590.75,113.15 L591.50,112.95 L592.25,112.76 L593.00,112.56 L593.75,112.37 L594.50,112.18 L595.25,111.99 L596.00,111.80 L596.75,111.61 L597.50,111.42 L598.25,111.24 L599.00,111.06 L599.75,110.87 L600.50,110.69 L601.25,110.51 L602.00,110.34 L602.75,110.16 L603.50,109.98 L604.25,109.81 L605.00,109.64 L605.75,109.46 L606.50,109.29 L607.25,109.12 L608.00,108.96 L608.75,108.79 L609.50,108.62 L610.25,108.46 L611.00,108.30 L611.75,108.13 L612.50,107.97 L613.25,107.81 L614.00,107.65 L614.75,107.50 L615.50,107.34 L616.25,107.19 L617.00,107.03 L617.75,106.88 L618.50,106.73 L619.25,106.58 L620.00,106.43 L620.75,106.28 L621.50,106.13 L622.25,105.98 L623.00,105.84 L623.75,105.69 L624.50,105.55 L625.25,105.41 L626.00,105.26 L626.75,105.12 L627.50,104.98 L628.25,104.85 L629.00,104.71 L629.75,104.57 L630.50,104.44 L631.25,104.30 L632.00,104.17 L632.75,104.03 L633.50,103.90 L634.25,103.77 L635.00,103.64 L635.75,103.51 L636.50,103.38 L637.25,103.26 L638.00,103.13 L638.75,103.00 L639.50,102.88 L640.25,102.75 L641.00,102.63 L641.75,102.51 L642.50,102.39 L643.25,102.26 L644.00,102.14 L644.75,102.02 L645.50,101.91 L646.25,101.79 L647.00,101.67 L647.75,101.55 L648.50,101.44 L649.25,101.32 L650.00,101.21 L650.75,101.09 L651.50,100.98 L652.25,100.87 L653.00,100.76 L653.75,100.64 L654.50,100.53 L655.25,100.42 L656.00,100.31 L656.75,100.21 L657.50,100.10 L658.25,99.99 L659.00,99.88 L659.75,99.78 L660.50,99.67 L661.25,99.57 L662.00,99.46 L662.75,99.36 L663.50,99.25 L664.25,99.15 L665.00,99.05 L665.75,98.95 L666.50,98.84 L667.25,98.74 L668.00,98.64 L668.75,98.54 L669.50,98.44 L670.25,98.34 L671.00,98.24 L671.75,98.14 L672.50,98.05 L673.25,97.95 L674.00,97.85 L674.50,97.79" stroke="#D95319"/>
<path d="M405.50,216.69 L406.25,216.02 L407.00,215.37 L407.75,214.75 L408.50,214.15 L409.25,213.57 L410.00,213.01 L410.75,212.47 L411.50,211.94 L412.25,211.43 L413.00,210.93 L413.75,210.45 L414.50,209.98 L415.25,209.51 L416.00,209.05 L416.75,208.61 L417.50,208.16 L418.25,207.73 L419.00,207.29 L419.75,206.87 L420.50,206.44 L421.25,206.02 L422.00,205.61 L422.75,205.19 L423.50,204.78 L424.25,204.36 L425.00,203.95 L425.75,203.53 L426.50,203.12 L427.25,202.70 L428.00,202.29 L428.75,201.86 L429.50,201.44 L430.25,201.01 L431.00,200.58 L431.75,200.14 L432.50,199.70 L433.25,199.25 L434.00,198.80 L434.75,198.35 L435.50,197.89 L436.25,197.44 L437.00,196.98 L437.75,196.52 L438.50,196.06 L439.25,195.60 L440.00,195.14 L440.75,194.68 L441.50,194.22 L442.25,193.77 L443.00,193.31 L443.75,192.85 L444.50,192.39 L445.25,191.94 L446.00,191.48 L446.75,191.03 L447.50,190.57 L448.25,190.12 L449.00,189.67 L449.75,189.22 L450.50,188.77 L451.25,188.32 L452.00,187.87 L452.75,187.42 L453.50,186.98 L454.25,186.53 L455.00,186.09 L455.75,185.65 L456.50,185.20 L457.25,184.76 L458.00,184.33 L458.75,183.89 L459.50,183.45 L460.25,183.02 L461.00,182.59 L461.75,182.16 L462.50,181.73 L463.25,181.30 L464.00,180.87 L464.75,180.45 L465.50,180.03 L466.25,179.61 L467.00,179.19 L467.75,178.77 L468.50,178.36 L469.25,177.94 L470.00,177.53 L470.75,177.12 L471.50,176.72 L472.25,176.31 L473.00,175.91 L473.75,175.51 L474.50,175.11 L475.25,174.72 L476.00,174.32 L476.75,173.93 L477.50,173.54 L478.25,173.16 L479.00,172.78 L479.75,172.39 L480.50,172.02 L481.25,171.64 L482.00,171.27 L482.75,170.90 L483.50,170.53 L484.25,170.17 L485.00,169.81 L485.75,169.45 L486.50,169.09 L487.25,168.74 L488.00,168.39 L488.75,168.04 L489.50,167.70 L490.25,167.35 L491.00,167.01 L491.75,166.68 L492.50,166.34 L493.25,166.01 L494.00,165.68 L494.75,165.36 L495.50,165.03 L496.25,164.71 L497.00,164.40 L497.75,164.08 L498.50,163.77 L499.25,163.46 L500.00,163.15 L500.75,162.85 L501.50,162.54 L502.25,162.24 L503.00,161.95 L503.75,161.65 L504.50,161.36 L505.25,161.07 L506.00,160.78 L506.75,160.50 L507.50,160.21 L508.25,159.93 L509.00,159.66 L509.75,159.38 L510.50,159.11 L511.25,158.84 L512.00,158.57 L512.75,158.31 L513.50,158.04 L514.25,157.78 L515.00,157.52 L515.75,157.27 L516.50,157.01 L517.25,156.76 L518.00,156.51 L518.75,156.26 L519.50,156.02 L520.25,155.78 L521.00,155.53 L521.75,155.30 L522.50,155.06 L523.25,154.83 L524.00,154.59 L524.75,154.36 L525.50,154.14 L526.25,153.91 L527.00,153.69 L527.75,153.47 L528.50,153.25 L529.25,153.03 L530.00,152.82 L530.75,152.60 L531.50,152.39 L532.25,152.18 L533.00,151.98 L533.75,151.77 L534.50,151.57 L535.25,151.37 L536.00,151.17 L536.75,150.97 L537.50,150.78 L538.25,150.58 L539.00,150.39 L539.75,150.20 L540.50,150.01 L541.25,149.83 L542.00,149.64 L542.75,149.46 L543.50,149.28 L544.25,149.10 L545.00,148.93 L545.75,148.75 L546.50,148.58 L547.25,148.41 L548.00,148.24 L548.75,148.07 L549.50,147.90 L550.25,147.74 L551.00,147.58 L551.75,147.42 L552.50,147.26 L553.25,147.10 L554.00,146.94 L554.75,146.79 L555.50,146.64 L556.25,146.48 L557.00,146.33 L557.75,146.19 L558.50,146.04 L559.25,145.90 L560.00,145.75 L560.75,145.61 L561.50,145.47 L562.25,145.33 L563.00,145.19 L563.75,145.06 L564.50,144.92 L565.25,144.79 L566.00,144.66 L566.75,144.53 L567.50,144.40 L568.25,144.27 L569.00,144.15 L569.75,144.02 L570.50,143.90 L571.25,143.78 L572.00,143.65 L572.75,143.54 L573.50,143.42 L574.25,143.30 L575.00,143.19 L575.75,143.07 L576.50,142.96 L577.25,142.85 L578.00,142.74 L578.75,142.63 L579.50,142.52 L580.25,142.41 L581.00,142.31 L581.75,142.20 L582.50,142.10 L583.25,142.00 L584.00,141.89 L584.75,141.79 L585.50,141.70 L586.25,141.60 L587.00,141.50 L587.75,141.40 L588.50,141.31 L589.25,141.22 L590.00,141.12 L590.75,141.03 L591.50,140.94 L592.25,140.85 L593.00,140.76 L593.75,140.68 L594.50,140.59 L595.25,140.50 L596.00,140.42 L596.75,140.33 L597.50,140.25 L598.25,140.17 L599.00,140.09 L599.75,140.01 L600.50,139.93 L601.25,139.85 L602.00,139.77 L602.75,139.69 L603.50,139.61 L604.25,139.54 L605.00,139.46 L605.75,139.39 L606.50,139.31 L607.25,139.24 L608.00,139.17 L608.75,139.10 L609.50,139.03 L610.25,138.96 L611.00,138.89 L611.75,138.82 L612.50,138.75 L613.25,138.68 L614.00,138.61 L614.75,138.55 L615.50,138.48 L616.25,138.42 L617.00,138.35 L617.75,138.29 L618.50,138.22 L619.25,138.16 L620.00,138.10 L620.75,138.04 L621.50,137.97 L622.25,137.91 L623.00,137.85 L623.75,137.79 L624.50,137.73 L625.25,137.67 L626.00,137.61 L626.75,137.55 L627.50,137.49 L628.25,137.44 L629.00,137.38 L629.75,137.32 L630.50,137.26 L631.25,137.21 L632.00,137.15 L632.75,137.09 L633.50,137.04 L634.25,136.98 L635.00,136.93 L635.75,136.87 L636.50,136.81 L637.25,136.76 L638.00,136.70 L638.75,136.65 L639.50,136.60 L640.25,136.54 L641.00,136.49 L641.75,136.43 L642.50,136.38 L643.25,136.32 L644.00,136.27 L644.75,136.22 L645.50,136.16 L646.25,136.11 L647.00,136.05 L647.75,136.00 L648.50,135.95 L649.25,135.89 L650.00,135.84 L650.75,135.79 L651.50,135.73 L652.25,135.68 L653.00,135.62 L653.75,135.57 L654.50,135.52 L655.25,135.46 L656.00,135.41 L656.75,135.35 L657.50,135.30 L658.25,135.24 L659.00,135.19 L659.75,135.13 L660.50,135.08 L661.25,135.02 L662.00,134.96 L662.75,134.91 L663.50,134.85 L664.25,134.80 L665.00,134.74 L665.75,134.68 L666.50,134.62 L667.25,134.56 L668.00,134.51 L668.75,134.45 L669.50,134.39 L670.25,134.33 L671.00,134.27 L671.75,134.21 L672.50,134.15 L673.25,134.09 L674.00,134.03 L674.50,133.98" stroke="#EDB120"/>
</g>
<g font-family="'Liberation Sans', Arial, Helvetica, sans-serif" font-size="13.5" fill="#1a1a1a" stroke="#1a1a1a" stroke-width="0.2">
<text x="405.20" y="236.2" text-anchor="middle">0</text>
<text x="494.87" y="236.2" text-anchor="middle">100</text>
<text x="584.53" y="236.2" text-anchor="middle">200</text>
<text x="674.20" y="236.2" text-anchor="middle">300</text>
<text x="400.70" y="223.10" text-anchor="end">0</text>
<text x="400.70" y="180.50" text-anchor="end">500</text>
<text x="400.70" y="137.90" text-anchor="end">1000</text>
<text x="400.70" y="95.30" text-anchor="end">1500</text>
<text x="400.70" y="52.70" text-anchor="end">2000</text>
<text x="400.70" y="10.10" text-anchor="end">2500</text>
</g>
<text x="539.90" y="251.5" text-anchor="middle" font-family="'Liberation Sans', Arial, sans-serif" font-size="11" fill="#1a1a1a">t</text>
<text transform="translate(364.00,111.00) rotate(-90)" text-anchor="middle" font-family="'Liberation Sans', Arial, sans-serif" font-size="14.67" fill="#1a1a1a" stroke="#1a1a1a" stroke-width="0.2">Infected humans</text>
<text x="526.20" y="272.3" text-anchor="middle" font-family="'Liberation Serif', 'Times New Roman', serif" font-size="12.6" fill="#111" stroke="#111" stroke-width="0.15">(b)</text>
<rect x="412.5" y="10.5" width="73" height="52.5" fill="#fff" stroke="#4a4a4a" stroke-width="1"/>
<path d="M417.2,19.90 H443.2" stroke="#0072BD" stroke-width="1.9" fill="none"/>
<text x="445.40" y="25.10" font-family="'Liberation Sans', Arial, sans-serif" font-size="12" fill="#111"><tspan font-family="'DejaVu Serif', serif" font-style="italic" font-size="11" textLength="7.5" lengthAdjust="spacingAndGlyphs">τ</tspan><tspan x="452.30">=</tspan><tspan x="458.20">0.01</tspan></text>
<path d="M417.2,36.95 H443.2" stroke="#D95319" stroke-width="1.9" fill="none"/>
<text x="445.40" y="42.15" font-family="'Liberation Sans', Arial, sans-serif" font-size="12" fill="#111"><tspan font-family="'DejaVu Serif', serif" font-style="italic" font-size="11" textLength="7.5" lengthAdjust="spacingAndGlyphs">τ</tspan><tspan x="452.30">=</tspan><tspan x="458.20">0.02</tspan></text>
<path d="M417.2,54.00 H443.2" stroke="#EDB120" stroke-width="1.9" fill="none"/>
<text x="445.40" y="59.20" font-family="'Liberation Sans', Arial, sans-serif" font-size="12" fill="#111"><tspan font-family="'DejaVu Serif', serif" font-style="italic" font-size="11" textLength="7.5" lengthAdjust="spacingAndGlyphs">τ</tspan><tspan x="452.30">=</tspan><tspan x="458.20">0.03</tspan></text>
</svg>
</body>
</html>
